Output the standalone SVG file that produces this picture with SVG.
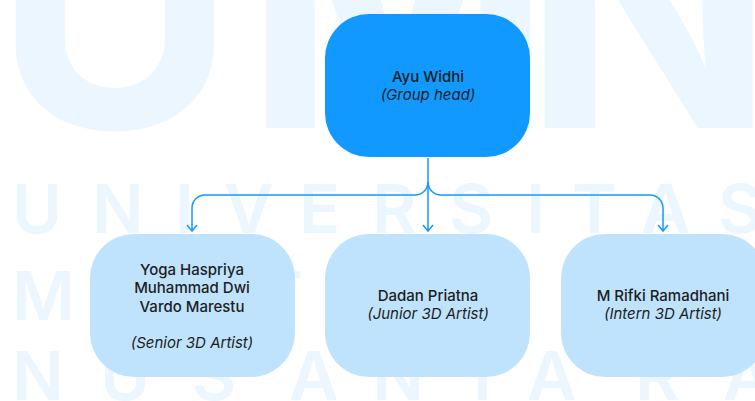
<svg xmlns="http://www.w3.org/2000/svg" width="755" height="401" viewBox="0 0 755 401">
  <style>
    .wm { fill: #EBF6FF; font-family: Inter, "Noto Sans", "Liberation Sans", sans-serif; }
    .wm-big { font-size: 330px; font-weight: 700; }
    .wm-row { font-size: 68px; font-weight: 600; }
    .head { fill: #1199FF; }
    .child { fill: #BFE3FC; }
    .t { font-family: Inter, "Noto Sans", "Liberation Sans", sans-serif; font-size: 15px; font-weight: 500; fill: #1E1E1E; text-anchor: middle; }
    .role { font-style: italic; font-weight: 400; }
    .conn { fill: none; stroke: #1499F8; stroke-width: 1.5; }
  </style>
  <defs>
    <marker id="arrow" viewBox="-1 -6 8 12" refX="6" refY="0" markerWidth="8" markerHeight="12" markerUnits="userSpaceOnUse" orient="auto" overflow="visible">
      <path d="M0,-5 L6,0 L0,5" fill="none" stroke="#1499F8" stroke-width="1.5"/>
    </marker>
  </defs>
  <rect x="0" y="0" width="755" height="401" fill="#FFFFFF"/>
  <g id="watermark" class="wm">
    <text class="wm-big" y="128"><tspan x="-6">U</tspan><tspan x="244">M</tspan><tspan x="523">N</tspan></text>
    <text class="wm-row" y="233"><tspan x="12">U</tspan><tspan x="92">N</tspan><tspan x="175">I</tspan><tspan x="224">V</tspan><tspan x="299">E</tspan><tspan x="372">R</tspan><tspan x="449">S</tspan><tspan x="526">I</tspan><tspan x="572">T</tspan><tspan x="641">A</tspan><tspan x="718">S</tspan></text>
    <text class="wm-row" y="320"><tspan x="12">M</tspan><tspan x="93">U</tspan><tspan x="174">L</tspan><tspan x="258">T</tspan><tspan x="334">I</tspan><tspan x="392">M</tspan><tspan x="485">E</tspan><tspan x="566">D</tspan><tspan x="646">I</tspan><tspan x="690">A</tspan></text>
    <text class="wm-row" y="400"><tspan x="12">N</tspan><tspan x="100">U</tspan><tspan x="192">S</tspan><tspan x="289">A</tspan><tspan x="372">N</tspan><tspan x="460">T</tspan><tspan x="527">A</tspan><tspan x="635">R</tspan><tspan x="723">A</tspan></text>
  </g>
  <g id="connectors">
    <path class="conn" d="M428,158 L428,231" marker-end="url(#arrow)"/>
    <path class="conn" d="M428,182 A13,13 0 0 1 415,195 L205,195 A13,13 0 0 0 192,208 L192,231" marker-end="url(#arrow)"/>
    <path class="conn" d="M428,182 A13,13 0 0 0 441,195 L650,195 A13,13 0 0 1 663,208 L663,231" marker-end="url(#arrow)"/>
  </g>
  <g id="node-ayu">
    <rect class="head" x="325" y="14" width="205" height="143" rx="44" ry="44"/>
    <text class="t" x="428" y="82">Ayu Widhi</text>
    <text class="t role" x="428" y="100">(Group head)</text>
  </g>
  <g id="node-senior">
    <rect class="child" x="90" y="234" width="205" height="143" rx="44" ry="44"/>
    <text class="t" x="192" y="275">Yoga Haspriya</text>
    <text class="t" x="192" y="293">Muhammad Dwi</text>
    <text class="t" x="192" y="312">Vardo Marestu</text>
    <text class="t role" x="192" y="348">(Senior 3D Artist)</text>
  </g>
  <g id="node-junior">
    <rect class="child" x="325" y="234" width="205" height="143" rx="44" ry="44"/>
    <text class="t" x="428" y="301">Dadan Priatna</text>
    <text class="t role" x="428" y="319">(Junior 3D Artist)</text>
  </g>
  <g id="node-intern">
    <rect class="child" x="561" y="234" width="205" height="143" rx="44" ry="44"/>
    <text class="t" x="663" y="301">M Rifki Ramadhani</text>
    <text class="t role" x="663" y="319">(Intern 3D Artist)</text>
  </g>
</svg>
